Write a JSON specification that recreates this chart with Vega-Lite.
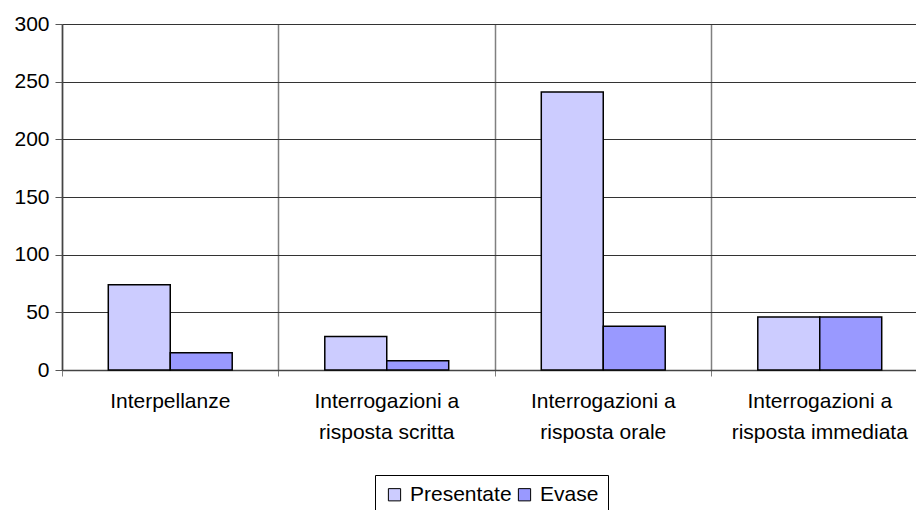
{
  "$schema": "https://vega.github.io/schema/vega-lite/v6.json",
  "autosize": {"type": "none"},
  "padding": {"left": 62, "top": 24, "right": 0, "bottom": 140},
  "width": 866,
  "height": 346,
  "background": "white",
  "config": {
    "view": {"stroke": null},
    "font": "Liberation Sans",
    "axis": {"labelFont": "Liberation Sans", "labelColor": "black", "labelFontSize": 21}
  },
  "data": {
    "values": [
      {"categoria": "Interpellanze", "serie": "Presentate", "valore": 74},
      {"categoria": "Interpellanze", "serie": "Evase", "valore": 15},
      {"categoria": "Interrogazioni a risposta scritta", "serie": "Presentate", "valore": 29},
      {"categoria": "Interrogazioni a risposta scritta", "serie": "Evase", "valore": 8},
      {"categoria": "Interrogazioni a risposta orale", "serie": "Presentate", "valore": 241},
      {"categoria": "Interrogazioni a risposta orale", "serie": "Evase", "valore": 38},
      {"categoria": "Interrogazioni a risposta immediata", "serie": "Presentate", "valore": 46},
      {"categoria": "Interrogazioni a risposta immediata", "serie": "Evase", "valore": 46}
    ]
  },
  "mark": {"type": "bar", "stroke": "black", "strokeWidth": 1.5},
  "encoding": {
    "x": {
      "field": "categoria",
      "type": "nominal",
      "sort": null,
      "scale": {"paddingInner": 0, "paddingOuter": 0},
      "axis": {
        "title": null,
        "labelAngle": 0,
        "bandPosition": 0,
        "grid": true,
        "gridColor": "#808080",
        "gridWidth": 1.5,
        "ticks": true,
        "tickSize": 6,
        "tickColor": "#808080",
        "domainColor": "#444444",
        "domainWidth": 1.5,
        "labelPadding": 14,
        "labelLimit": 300,
        "labelLineHeight": 31,
        "labelBaseline": "top",
        "labelExpr": "indexof(datum.label, ' a ') > 0 ? [slice(datum.label, 0, indexof(datum.label, ' a ') + 2), slice(datum.label, indexof(datum.label, ' a ') + 3)] : datum.label"
      }
    },
    "xOffset": {"field": "serie", "type": "nominal", "sort": ["Presentate", "Evase"], "scale": {"paddingInner": 0, "paddingOuter": 0.747}},
    "y": {
      "field": "valore",
      "type": "quantitative",
      "scale": {"domain": [0, 300], "nice": false},
      "axis": {
        "title": null,
        "values": [0, 50, 100, 150, 200, 250, 300],
        "grid": true,
        "gridColor": "#333333",
        "gridWidth": 1,
        "tickColor": "#555555",
        "tickSize": 7,
        "domainColor": "#444444",
        "domainWidth": 1.5,
        "labelPadding": 6
      }
    },
    "fill": {
      "field": "serie",
      "type": "nominal",
      "sort": ["Presentate", "Evase"],
      "scale": {"domain": ["Presentate", "Evase"], "range": ["#CCCCFF", "#9999FF"]},
      "legend": {
        "title": null,
        "orient": "none",
        "direction": "horizontal",
        "legendX": 313,
        "legendY": 451,
        "strokeColor": "black",
        "padding": 9,
        "symbolType": "square",
        "symbolSize": 150,
        "symbolStrokeColor": "black",
        "symbolStrokeWidth": 1,
        "labelFontSize": 21,
        "labelFont": "Liberation Sans",
        "labelColor": "black",
        "columnPadding": 2,
        "labelOffset": 5
      }
    }
  }
}
